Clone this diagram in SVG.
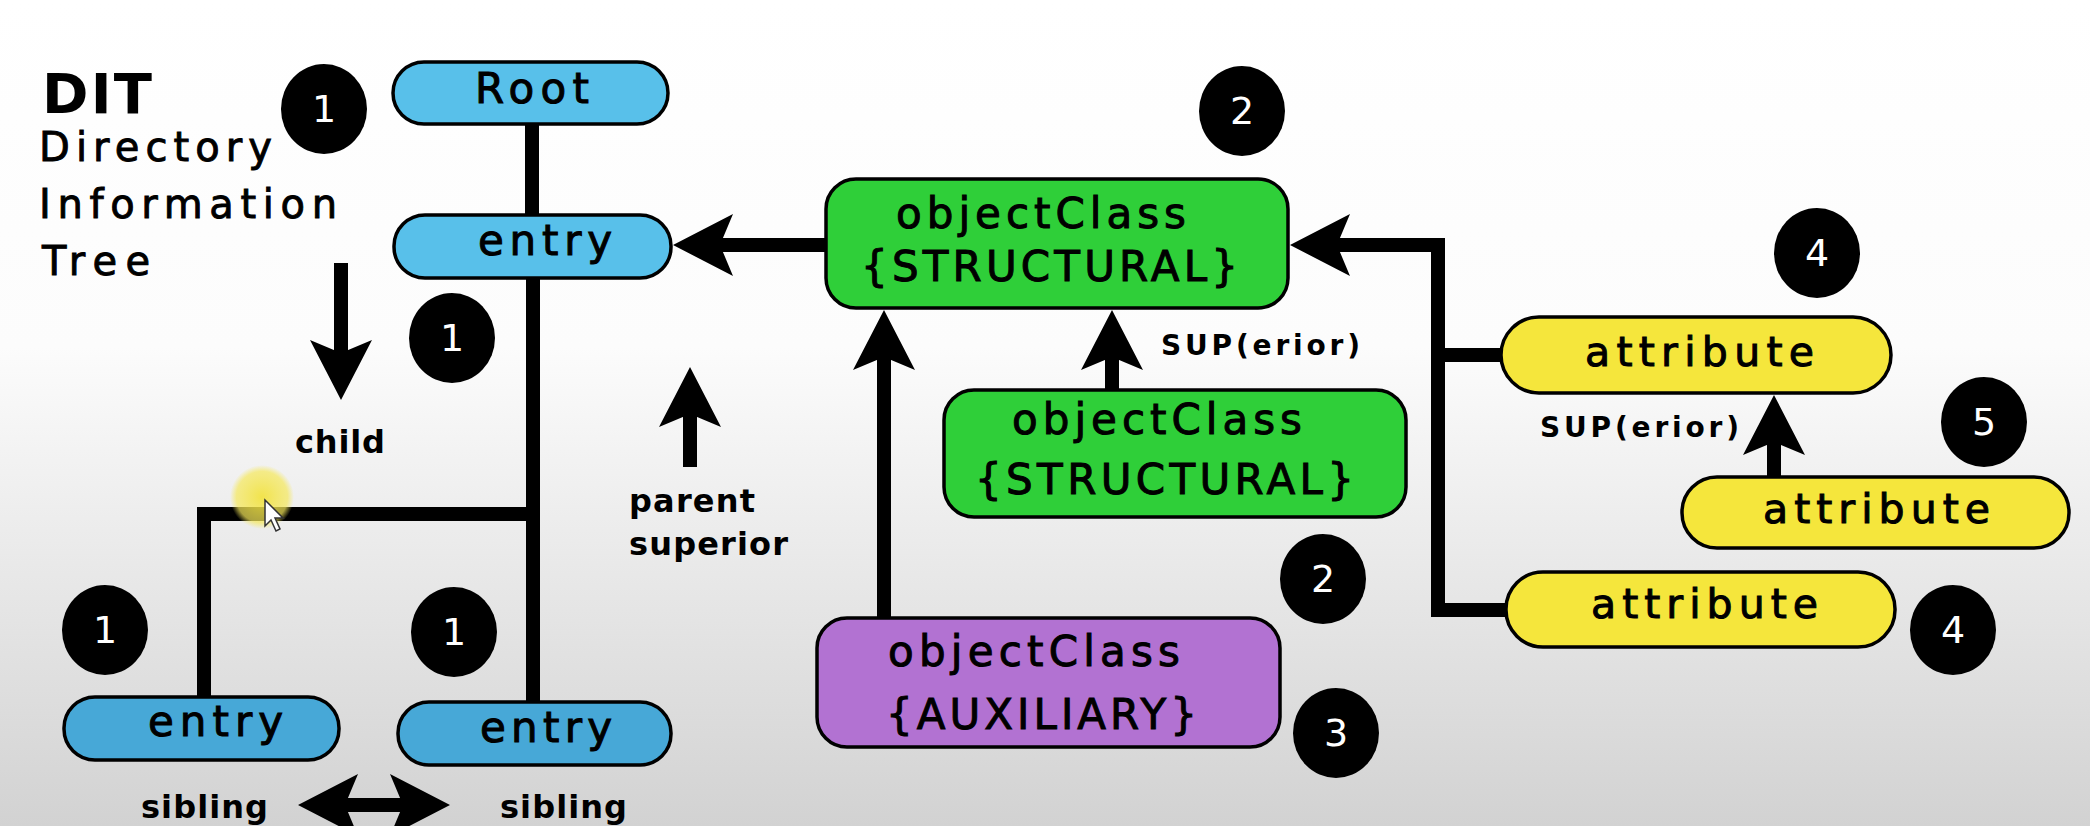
<svg xmlns="http://www.w3.org/2000/svg" width="2090" height="826" viewBox="0 0 2090 826">
<style>
.pill{stroke:#000;stroke-width:3.5}
.blue{fill:#58c0ea}
.blue2{fill:#47a8d7}
.green{fill:#2fcf39}
.purple{fill:#b272d2}
.yellow{fill:#f5e63c}
.lbl{font-family:"DejaVu Sans","Liberation Sans",sans-serif;font-size:42px;fill:#000;stroke:#000;stroke-width:1}
.attr{font-size:41px}
.ttl{font-size:40px;stroke-width:0.9}
.note{font-family:"DejaVu Sans","Liberation Sans",sans-serif;font-weight:bold;font-size:32px;fill:#000}
.sup{font-size:28px}
.badge{fill:#000}
.num{font-family:"DejaVu Sans","Liberation Sans",sans-serif;font-size:38px;fill:#fff;text-anchor:middle}
.conn{fill:none;stroke:#000;stroke-width:14;stroke-linejoin:miter;stroke-linecap:butt}
.head{marker-end:url(#arrow)}
</style>
<defs>
<linearGradient id="bg" x1="0" y1="0" x2="0" y2="826" gradientUnits="userSpaceOnUse">
<stop offset="0" stop-color="#ffffff"/>
<stop offset="0.42" stop-color="#fcfcfc"/>
<stop offset="1" stop-color="#d2d2d2"/>
</linearGradient>
<radialGradient id="hl">
<stop offset="0" stop-color="#f2e23a" stop-opacity="0.9"/>
<stop offset="0.8" stop-color="#f5e85a" stop-opacity="0.7"/>
<stop offset="1" stop-color="#f5e85a" stop-opacity="0"/>
</radialGradient>
<marker id="arrow" viewBox="0 0 60 62" refX="13" refY="31" markerWidth="60" markerHeight="62" markerUnits="userSpaceOnUse" orient="auto-start-reverse">
<path d="M0,0 L60,31 L0,62 L13,31 Z" fill="#000"/>
</marker>
</defs>
<rect x="0" y="0" width="2090" height="826" fill="url(#bg)"/>

<g id="title">
<text class="note" x="42" y="113" textLength="110" lengthAdjust="spacing" style="font-size:56px">DIT</text>
<text class="lbl ttl" x="39" y="161" textLength="233" lengthAdjust="spacing">Directory</text>
<text class="lbl ttl" x="39" y="218" textLength="298" lengthAdjust="spacing">Information</text>
<text class="lbl ttl" x="42" y="275" textLength="108" lengthAdjust="spacing">Tree</text>
</g>

<g id="connectors">
<path class="conn" d="M532,124 V215"/>
<path class="conn" d="M204,697 V514 H533"/>
<path class="conn" d="M533,278 V702"/>
<path class="conn head" d="M827,245 H720"/>
<path class="conn head" d="M884,618 V357"/>
<path class="conn head" d="M1112,390 V357"/>
<path class="conn head" d="M1506,610 H1438 V245 H1337"/>
<path class="conn" d="M1438,355 H1502"/>
<path class="conn head" d="M1774,477 V442"/>
<path class="conn head" d="M341,263 V353"/>
<path class="conn head" d="M690,467 V414"/>
<path class="conn head" d="M345,805 H403" style="marker-start:url(#arrow)"/>
</g>

<g id="labels">
<text class="note" x="295" y="453" textLength="90" lengthAdjust="spacing">child</text>
<text class="note" x="629" y="512" textLength="126" lengthAdjust="spacing">parent</text>
<text class="note" x="629" y="555" textLength="159" lengthAdjust="spacing">superior</text>
<text class="note" x="141" y="818" textLength="127" lengthAdjust="spacing">sibling</text>
<text class="note" x="500" y="818" textLength="127" lengthAdjust="spacing">sibling</text>
<text class="note sup" x="1161" y="355" textLength="199" lengthAdjust="spacing">SUP(erior)</text>
<text class="note sup" x="1540" y="437" textLength="199" lengthAdjust="spacing">SUP(erior)</text>
</g>

<g id="root">
<rect class="pill blue" x="393" y="62" width="275" height="62" rx="31"/>
<text class="lbl" x="475" y="103" textLength="114" lengthAdjust="spacing">Root</text>
</g>
<g id="entry-top">
<rect class="pill blue" x="394" y="215" width="277" height="63" rx="31"/>
<text class="lbl" x="478" y="255" textLength="134" lengthAdjust="spacing">entry</text>
</g>
<g id="entry-left">
<rect class="pill blue2" x="64" y="697" width="275" height="63" rx="31"/>
<text class="lbl" x="148" y="736" textLength="135" lengthAdjust="spacing">entry</text>
</g>
<g id="entry-right">
<rect class="pill blue2" x="398" y="702" width="273" height="63" rx="31"/>
<text class="lbl" x="480" y="742" textLength="132" lengthAdjust="spacing">entry</text>
</g>
<g id="oc-structural-1">
<rect class="pill green" x="826" y="179" width="462" height="129" rx="30"/>
<text class="lbl" x="896" y="228" textLength="290" lengthAdjust="spacing">objectClass</text>
<text class="lbl" x="861" y="281" textLength="377" lengthAdjust="spacing">{STRUCTURAL}</text>
</g>
<g id="oc-structural-2">
<rect class="pill green" x="944" y="390" width="462" height="127" rx="30"/>
<text class="lbl" x="1012" y="434" textLength="290" lengthAdjust="spacing">objectClass</text>
<text class="lbl" x="975" y="494" textLength="379" lengthAdjust="spacing">{STRUCTURAL}</text>
</g>
<g id="oc-auxiliary">
<rect class="pill purple" x="817" y="618" width="463" height="129" rx="30"/>
<text class="lbl" x="888" y="666" textLength="292" lengthAdjust="spacing">objectClass</text>
<text class="lbl" x="886" y="729" textLength="311" lengthAdjust="spacing">{AUXILIARY}</text>
</g>
<g id="attribute-1">
<rect class="pill yellow" x="1501" y="317" width="390" height="76" rx="38"/>
<text class="lbl attr" x="1585" y="366" textLength="229" lengthAdjust="spacing">attribute</text>
</g>
<g id="attribute-2">
<rect class="pill yellow" x="1682" y="477" width="387" height="71" rx="35"/>
<text class="lbl attr" x="1763" y="523" textLength="227" lengthAdjust="spacing">attribute</text>
</g>
<g id="attribute-3">
<rect class="pill yellow" x="1506" y="572" width="389" height="75" rx="37"/>
<text class="lbl attr" x="1591" y="618" textLength="227" lengthAdjust="spacing">attribute</text>
</g>

<g id="badges">
<g id="b1a"><ellipse class="badge" cx="324" cy="109" rx="43" ry="45"/><text class="num" x="324" y="122">1</text></g>
<g id="b1b"><ellipse class="badge" cx="452" cy="338" rx="43" ry="45"/><text class="num" x="452" y="351">1</text></g>
<g id="b1c"><ellipse class="badge" cx="105" cy="630" rx="43" ry="45"/><text class="num" x="105" y="643">1</text></g>
<g id="b1d"><ellipse class="badge" cx="454" cy="632" rx="43" ry="45"/><text class="num" x="454" y="645">1</text></g>
<g id="b2a"><ellipse class="badge" cx="1242" cy="111" rx="43" ry="45"/><text class="num" x="1242" y="124">2</text></g>
<g id="b2b"><ellipse class="badge" cx="1323" cy="579" rx="43" ry="45"/><text class="num" x="1323" y="592">2</text></g>
<g id="b3"><ellipse class="badge" cx="1336" cy="733" rx="43" ry="45"/><text class="num" x="1336" y="746">3</text></g>
<g id="b4a"><ellipse class="badge" cx="1817" cy="253" rx="43" ry="45"/><text class="num" x="1817" y="266">4</text></g>
<g id="b5"><ellipse class="badge" cx="1984" cy="422" rx="43" ry="45"/><text class="num" x="1984" y="435">5</text></g>
<g id="b4b"><ellipse class="badge" cx="1953" cy="630" rx="43" ry="45"/><text class="num" x="1953" y="643">4</text></g>
</g>

<g id="cursor">
<circle cx="262" cy="497" r="32" fill="url(#hl)"/>
<path d="M265,500 L265,526 L271,520 L276,531 L280,529 L275,518 L283,518 Z" fill="#fff" stroke="#333" stroke-width="1.5"/>
</g>
</svg>
